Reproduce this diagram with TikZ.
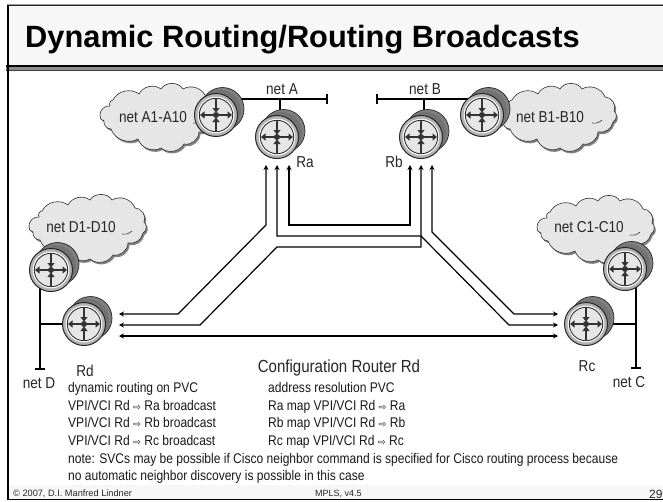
\documentclass[tikz,border=0pt]{standalone}
\usepackage{fontspec}
\setmainfont{Liberation Sans}
\newfontfamily\nrw[FakeStretch=0.86]{Liberation Sans}
\newfontfamily\symf{DejaVu Sans}
\usetikzlibrary{arrows.meta}
\newcommand{\ra}{{\symf\fontsize{9.5}{9.5}\selectfont ⇨}}
\definecolor{panel}{HTML}{F7F7F7}
\definecolor{cloudfill}{HTML}{E6E6E6}
\definecolor{ringg}{HTML}{B4B4B4}
\definecolor{backg}{HTML}{808080}
\definecolor{arrg}{HTML}{333333}
\tikzset{
  link/.style={line width=1.2pt,{Stealth[length=5pt,width=5pt]}-{Stealth[length=5pt,width=5pt]},line join=miter},
  bus/.style={line width=1.2pt,black},
  lbl/.style={font=\nrw\fontsize{15.8}{16}\selectfont,inner sep=0pt,text=black!85},
  cfg/.style={font=\nrw\fontsize{14}{15}\selectfont,inner sep=0pt,anchor=base west,text=black!90},
  foot/.style={inner sep=0pt,anchor=base west,text=black!85},
  hub/.style={circle,minimum size=42pt,inner sep=0pt},
  rarr/.style={line width=2.6pt,arrg,-{Stealth[length=4.5pt,width=7pt,inset=0pt]}}
}
\newcommand{\cloudpath}{(0,28) to[bend left=50] (10,19) to[bend left=60] (13,13) to[bend left=50] (39,7) to[bend left=50] (61,2) to[bend left=60] (83,2) to[bend left=50] (106,10) to[bend left=60] (115,24) to[bend left=60] (114,35) to[bend left=45] (99,45) to[bend left=50] (84,57) to[bend left=50] (61,61) to[bend left=50] (38,52) to[bend left=50] (11,42) to[bend left=50] (4,34) to[bend left=50] (0,28) -- cycle}
\newcommand{\cloudat}[2]{%
  \begin{scope}[shift={(#1,#2)}]
    \fill[backg,shift={(1.5,2)}] \cloudpath;
    \draw[black!80,fill=cloudfill,line width=0.6pt] \cloudpath;
    \draw[black!80,line width=0.6pt] (93,36) to[bend right=25] (103,33);
  \end{scope}}
\newcommand{\routerart}[1]{%
  \begin{scope}[shift={(#1.center)}]
    \draw[black!85,fill=backg,line width=0.7pt] (6.5,-6) circle (21.5);
    \fill[black!55] (4,-4) circle (21);
    \draw[black!85,fill=ringg,line width=1pt] (0,0) circle (21.5);
    \draw[white,line width=1pt,fill=cloudfill] (0,0) circle (17.8);
    \draw[black!85,line width=0.8pt,fill=cloudfill] (0,0) circle (16.7);
    \draw[rarr] (0,0) -- (16,0);
    \draw[rarr] (0,0) -- (-16,0);
    \draw[rarr] (0,-16) -- (0,-2.5);
    \draw[rarr] (0,16) -- (0,2.5);
    \fill[arrg] (0,0) circle (3);
  \end{scope}}
\begin{document}
\begin{tikzpicture}[x=1pt,y=-1pt]
\useasboundingbox (0,0) rectangle (663,501);
\fill[white] (0,0) rectangle (663,501);
% slide frame
\fill[panel] (7,5) rectangle (663,66);
\fill[panel] (7,485) rectangle (663,500);
\draw[black!40,line width=0.6pt] (7,4.3) -- (663,4.3);
\draw[black!85,line width=1.3pt] (7,5.6) -- (663,5.6);
\fill[black!45] (6,66) rectangle (663,71);
\draw[black,line width=1.1pt] (6,66) -- (663,66);
\draw[black!75,line width=1.1pt] (6,70.6) -- (663,70.6);
\draw[black,line width=1.8pt] (7.8,5) -- (7.8,500);
\draw[black,line width=1.4pt] (7,499.6) -- (663,499.6);
\node[inner sep=0pt,anchor=base west,font=\bfseries\fontsize{30.8}{31}\selectfont] (title) at (25,47) {Dynamic Routing/Routing Broadcasts};
% hubs
\node[hub] (Ra) at (277,137) {};
\node[hub] (Rb) at (421,137) {};
\node[hub] (Rc) at (586,324) {};
\node[hub] (Rd) at (84,324) {};
\node[hub] (Ea) at (216,115) {};
\node[hub] (Eb) at (482,115) {};
\node[hub] (Ec) at (625,269) {};
\node[hub] (Ed) at (51,270) {};
% clouds
\cloudat{100}{87}
\cloudat{499}{87}
\cloudat{537}{199}
\cloudat{29}{198}
% buses
\coordinate (endA) at (327,99);
\coordinate (endB) at (377,99);
\coordinate (endC) at (636,368);
\coordinate (endD) at (40,369);
\draw[bus] (Ea.center |- endA) -- (endA);
\draw[bus] (endA) ++(0,-5) -- ++(0,10);
\draw[bus] (280,99) -- (280,115);
\draw[bus] (endB) -- (Eb.center |- endB);
\draw[bus] (endB) ++(0,-5) -- ++(0,10);
\draw[bus] (424,99) -- (424,115);
\draw[bus] (endC |- Ec.center) -- (endC);
\draw[bus] (endC) ++(-5,0) -- ++(10,0);
\draw[bus] (Rc.center) -- (Rc.center -| endC);
\draw[bus] (endD |- Ed.center) -- (endD);
\draw[bus] (endD) ++(-5,0) -- ++(10,0);
\draw[bus] (Rd.center) -- (Rd.center -| endD);
% routers
\routerart{Ea}\routerart{Eb}\routerart{Ec}\routerart{Ed}
\routerart{Ra}\routerart{Rb}\routerart{Rc}\routerart{Rd}
% PVC links
\coordinate (aL) at (266,165);
\coordinate (aM) at (277,165);
\coordinate (aR) at (289,165);
\coordinate (bL) at (410,165);
\coordinate (bM) at (421,165);
\coordinate (bR) at (432,165);
\coordinate (dT) at (119,314);
\coordinate (dM) at (119,325);
\coordinate (dB) at (119,336);
\coordinate (cT) at (558,314);
\coordinate (cM) at (558,325);
\coordinate (cB) at (558,336);
\draw[link] (aL) -- (266,225) -- (178,314) -- (dT);
\draw[link] (aR) -- (289,225) -- (410,225) -- (bL);
\draw[link] (aM) -- (277,236) -- (421,236) -- (509,325) -- (cM);
\draw[link] (bM) -- (421,247) -- (277,247) -- (200,325) -- (dM);
\draw[link] (bR) -- (432,232) -- (514,314) -- (cT);
\draw[link] (dB) -- (cB);
% labels
\node[lbl] (lA) at (282,89) {net A};
\node[lbl] (lB) at (425,89) {net B};
\node[lbl] (lC) at (629,382) {net C};
\node[lbl] (lD) at (39,383) {net D};
\node[lbl] (lA1) at (153,117) {net A1-A10};
\node[lbl] (lB1) at (550,117) {net B1-B10};
\node[lbl] (lC1) at (589,227) {net C1-C10};
\node[lbl] (lD1) at (81,227) {net D1-D10};
\node[lbl] (lRa) at (305,162) {Ra};
\node[lbl] (lRb) at (394,162) {Rb};
\node[lbl] (lRc) at (587,366) {Rc};
\node[lbl] (lRd) at (85,371) {Rd};
\node[lbl,font=\nrw\fontsize{17.5}{18}\selectfont] (cfgT) at (339,368) {Configuration Router Rd};
\node[cfg] (t1) at (68,392) {dynamic routing on PVC};
\node[cfg] (t2) at (68,410) {VPI/VCI Rd \ra{} Ra broadcast};
\node[cfg] (t3) at (68,427) {VPI/VCI Rd \ra{} Rb broadcast};
\node[cfg] (t4) at (68,445) {VPI/VCI Rd \ra{} Rc broadcast};
\node[cfg] (u1) at (268,392) {address resolution PVC};
\node[cfg] (u2) at (268,410) {Ra map VPI/VCI Rd \ra{} Ra};
\node[cfg] (u3) at (268,427) {Rb map VPI/VCI Rd \ra{} Rb};
\node[cfg] (u4) at (268,445) {Rc map VPI/VCI Rd \ra{} Rc};
\node[cfg] (n1) at (68,463) {note: SVCs may be possible if Cisco neighbor command is specified for Cisco routing process because};
\node[cfg] (n2) at (68,480) {no automatic neighbor discovery is possible in this case};
\node[foot,font=\fontsize{9.2}{9}\selectfont] (f1) at (13,496) {© 2007, D.I. Manfred Lindner};
\node[foot,font=\fontsize{9}{9}\selectfont] (f2) at (315,496) {MPLS, v4.5};
\node[foot,font=\fontsize{12}{12}\selectfont] (f3) at (649,498) {29};
\end{tikzpicture}
\end{document}
